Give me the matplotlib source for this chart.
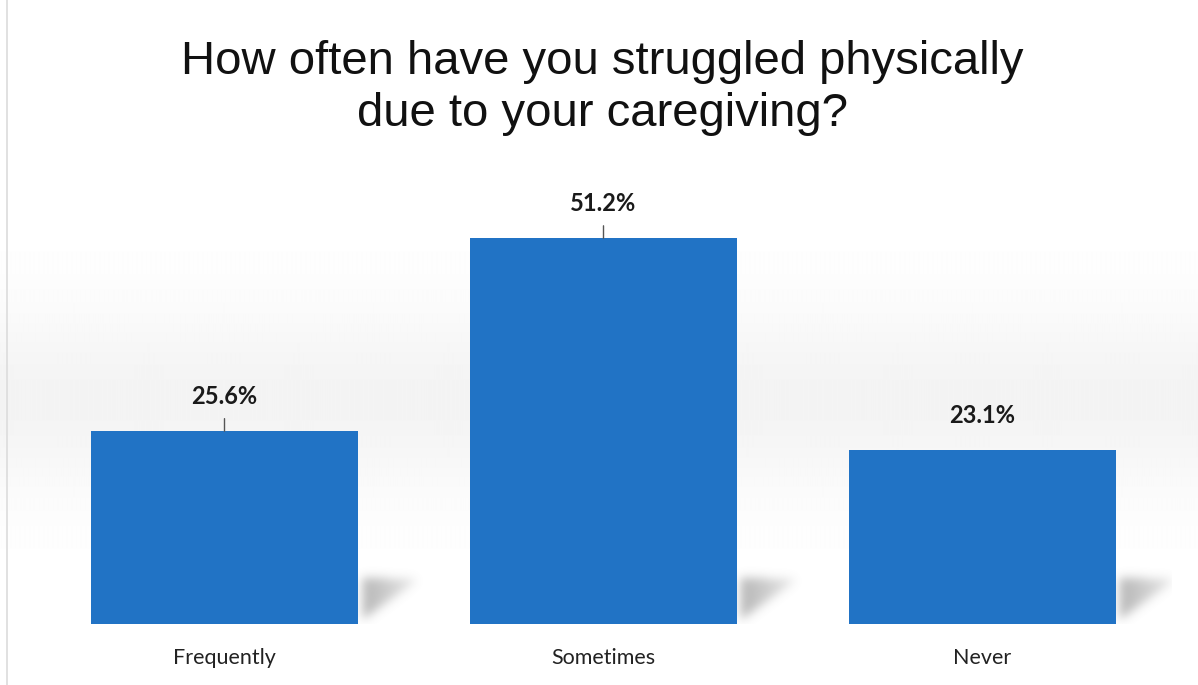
import numpy as np
import matplotlib
matplotlib.use("Agg")
import matplotlib.pyplot as plt
from matplotlib.path import Path

categories = ["Frequently", "Sometimes", "Never"]
percent = [25.6, 51.2, 23.1]
labels = ["25.6%", "51.2%", "23.1%"]
show_leader = [True, True, False]

bar_color = "#2173C5"
W, H = 1198, 685

fig = plt.figure(figsize=(W / 100, H / 100), dpi=100)

# soft grey haze behind the plot area
bg = fig.add_axes([0, 0, 1, 1], zorder=-10)
rows = np.arange(H)
haze = np.exp(-((rows - 400) / 95.0) ** 2) * 0.045
haze_img = np.repeat((1 - haze)[:, None], 8, axis=1)
bg.imshow(haze_img, cmap="gray", vmin=0, vmax=1, aspect="auto",
          extent=[0, 1, 0, 1], interpolation="bilinear")
bg.axvline(0.006, color="#dcdcdc", lw=1.2)
bg.set_xlim(0, 1)
bg.set_ylim(0, 1)
bg.axis("off")

ax = fig.add_axes([35 / W, 61 / H, 1137 / W, 452 / H])
ax.patch.set_alpha(0)
x = np.arange(len(categories))
width = 0.707
ax.bar(x, percent, width=width, color=bar_color, zorder=3)
ax.set_xlim(-0.5, len(categories) - 0.5)
ax.set_ylim(0, 60)

# blurred floor shadows to the right of each bar
px_x = 1137 / 3.0   # pixels per x unit
px_y = 452 / 60.0   # pixels per percent
gx = np.linspace(-0.5, 2.5, 1137)
gy = np.linspace(0, 60, 452)
GX, GY = np.meshgrid(gx, gy)
pts = np.column_stack([GX.ravel(), GY.ravel()])
k = np.exp(-0.5 * (np.arange(-15, 16) / 5.0) ** 2)
k /= k.sum()
alpha = np.zeros(GX.shape)
for xi in x:
    xr = xi + width / 2
    poly = [(xr + 4 / px_x, 4 / px_y), (xr + 4 / px_x, 46 / px_y),
            (xr + 60 / px_x, 44 / px_y)]
    m = Path(poly).contains_points(pts).reshape(GX.shape).astype(float)
    m = np.apply_along_axis(lambda r: np.convolve(r, k, mode="same"), 1, m)
    m = np.apply_along_axis(lambda c: np.convolve(c, k, mode="same"), 0, m)
    fade = np.clip(1 - (GX - xr) * px_x / 85, 0, 1)
    alpha += m * fade
shadow = np.zeros(GX.shape + (4,))
shadow[..., :3] = 0.5
shadow[..., 3] = np.clip(alpha * 1.2, 0, 1) * 0.5
ax.imshow(shadow, origin="lower", aspect="auto",
          extent=[-0.5, 2.5, 0, 60], zorder=1, interpolation="bilinear")

for xi, v, lab, lead in zip(x, percent, labels, show_leader):
    ax.annotate(lab, (xi, v), xytext=(0, 16.5), textcoords="offset points",
                ha="center", va="bottom", fontsize=17, fontweight="bold",
                family="Lato", color="#1a1a1a")
    if lead:
        ax.annotate("", (xi, v), xytext=(0, 9), textcoords="offset points",
                    arrowprops=dict(arrowstyle="-", color="#555555", lw=1,
                                    shrinkA=0, shrinkB=0))

ax.set_xticks(x)
ax.set_xticklabels(categories, family="Lato", fontsize=15.5, color="#222222")
ax.tick_params(axis="x", length=0, pad=17)
ax.set_yticks([])
for s in ax.spines.values():
    s.set_visible(False)

fig.text(0.503, 1 - 88 / H, "How often have you struggled physically\ndue to your caregiving?",
         ha="center", va="center", fontsize=34, family="Liberation Sans",
         color="#111111", linespacing=1.25)

fig.savefig("out.png", dpi=100)
